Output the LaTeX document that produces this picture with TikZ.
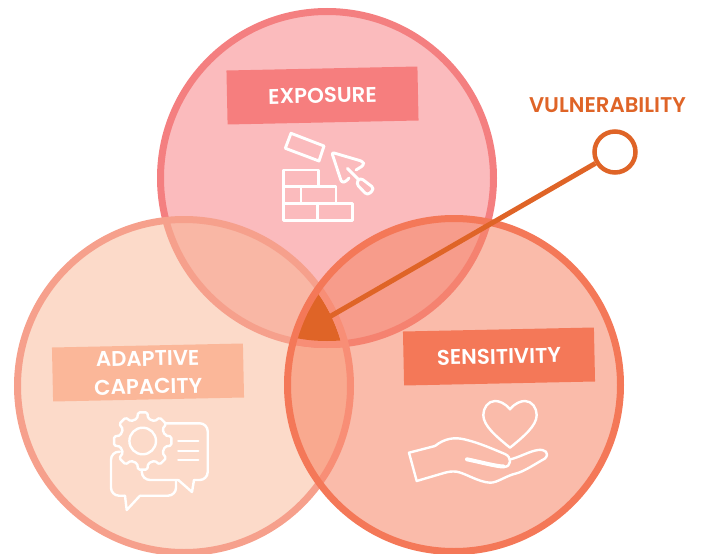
\documentclass[tikz,border=0pt]{standalone}
\usepackage{fontspec}
\setmainfont[BoldFont={Poppins SemiBold}]{Poppins}
\definecolor{expofill}{HTML}{FBBBBD}
\definecolor{expoline}{HTML}{F47F80}
\definecolor{adapfill}{HTML}{FCDAC9}
\definecolor{adapline}{HTML}{F6A08C}
\definecolor{sensfill}{HTML}{FABBAA}
\definecolor{sensline}{HTML}{F47858}
\definecolor{expoadap}{HTML}{F9B7A5}
\definecolor{exposens}{HTML}{F79C8B}
\definecolor{adapsens}{HTML}{F9A98F}
\definecolor{adapring}{HTML}{F88E76}
\definecolor{exporing}{HTML}{F58270}
\definecolor{adapbar}{HTML}{FBB799}
\definecolor{expobar}{HTML}{F67E7E}
\definecolor{vulncol}{HTML}{DF6427}
\tikzset{
  ring/.style={line width=7pt},
  labelbar/.style={rotate=1.2, minimum width=191pt, minimum height=54pt, inner sep=0pt,
    text=white, font=\fontsize{21.3}{28}\selectfont\bfseries, align=center},
  icon/.style={draw=white, line width=2.4pt, line join=round, line cap=round},
  brick/.style={icon, line width=2.9pt},
}
\begin{document}
\begin{tikzpicture}[x=1pt,y=-1pt]
  \useasboundingbox (0,0) rectangle (705,554);
  \def\rad{166.5}
  \def\core{163}
  \coordinate (expo) at (327,178);
  \coordinate (adap) at (184,386);
  \coordinate (sens) at (454,385);
  % exposure
  \fill[expofill] (expo) circle (\rad);
  \draw[ring,expoline] (expo) circle (\rad);
  % adaptive capacity
  \fill[adapfill] (adap) circle (\rad);
  \begin{scope}
    \clip (adap) circle (\rad);
    \fill[expoadap] (expo) circle (\rad);
    \draw[ring,adapline] (expo) circle (\rad);
  \end{scope}
  \draw[ring,adapline] (adap) circle (\rad);
  % sensitivity and the overlaps inside it
  \fill[sensfill] (sens) circle (\rad);
  \begin{scope}
    \clip (sens) circle (\rad);
    \fill[adapsens] (adap) circle (\rad);
    \fill[exposens] (expo) circle (\rad);
    \draw[ring,exporing] (expo) circle (\rad);
    \begin{scope}
      \clip (adap) circle (\rad);
      \draw[ring,adapring] (expo) circle (\rad);
      \clip (expo) circle (\core);
      \fill[vulncol] (adap) circle (\core);
    \end{scope}
    \draw[ring,adapring] (adap) circle (\rad);
  \end{scope}
  \draw[ring,sensline] (sens) circle (\rad);

  \node[labelbar,fill=expobar] (expolabel) at (322.5,95.5) {EXPOSURE};
  \node[labelbar,fill=adapbar] (adaplabel) at (148,372.5) {ADAPTIVE\\CAPACITY};
  \node[labelbar,fill=sensline] (senslabel) at (499,356.5) {SENSITIVITY};

  % bricks and trowel
  \draw[brick] (291,133.3) -- (324,146) -- (319,161) -- (285.3,148.3) -- cycle;
  \draw[brick] (283.3,170) rectangle (318.7,186.7);
  \draw[brick] (283.3,186.7) rectangle (336,203.3);
  \draw[brick] (301,186.7) -- (301,203.3);
  \draw[brick] (283.3,203.3) rectangle (352.7,220.7);
  \draw[brick] (317.7,203.3) -- (317.7,220.7);
  \draw[brick,rounded corners=2.5pt] (349,178) -- (346,181.5) -- (341.7,182.7) -- (331.7,152.3) -- (363,161.5) -- (364,165) -- (356,170);
  \draw[brick] (347.5,168.5) -- (359,180);
  \draw[brick,rounded corners=3.5pt] (360,177.5) -- (374.5,188.5) -- (367.5,195.5) -- (356,183.5) -- cycle;

  % gear and speech bubbles
  \begin{scope}[shift={(142.7,441)}]
    \draw[icon] (0,0) circle (13.3);
    \draw[icon,rounded corners=1.5pt] (-14:23)
      \foreach \a in {0,45,...,315} {
        -- (\a-9:29) -- (\a+9:29) -- (\a+14:23) -- (\a+31:23)
      } -- cycle;
  \end{scope}
  \draw[icon,rounded corners=8pt] (165,423.3) -- (207.7,423.3) -- (207.7,480) -- (194,480);
  \draw[icon] (194,480) -- (192,492) -- (178.3,480);
  \draw[icon,rounded corners=8pt] (178.3,480) -- (142,480) -- (141.7,470);
  \draw[icon] (178.3,441) -- (198.3,441);
  \draw[icon] (178.3,450.7) -- (198.3,450.7);
  \draw[icon] (178.3,460) -- (198.3,460);
  \draw[icon,rounded corners=8pt] (120,451.7) -- (111,451.7) -- (111,495.7) -- (125,495.7);
  \draw[icon] (125,495.7) -- (126.7,510) -- (140,495.7);
  \draw[icon,rounded corners=8pt] (140,495.7) -- (176,495.7) -- (176,481);

  % heart and hand
  \draw[icon] (510,409.3) .. controls (505,403) and (499,401) .. (495,401)
    .. controls (488,401) and (483.3,408) .. (483.3,415)
    .. controls (483.3,426) and (497,437) .. (510,447.7)
    .. controls (523,437) and (536.7,426) .. (536.7,415)
    .. controls (536.7,408) and (532,401) .. (525,401)
    .. controls (521,401) and (515,403) .. (510,409.3) -- cycle;
  \draw[icon] (435,446) .. controls (445,438) and (455,437) .. (465,439.5)
    .. controls (480,443) and (495,450) .. (505,454)
    .. controls (512,457) and (512,467) .. (503.5,467);
  \draw[icon,line width=4pt] (503.5,466.5) .. controls (497,466.5) and (480,462) .. (467,459.3);
  \draw[icon] (510,459.5) .. controls (520,457) and (530,451) .. (538,450)
    .. controls (545,449) and (550,453) .. (545,458.5)
    .. controls (535,464) and (525,471) .. (516.7,473.3)
    .. controls (505,476) and (498,482.7) .. (490,482.7)
    .. controls (478,482) and (465,473) .. (456.7,471.7)
    .. controls (452,471) and (448,472) .. (445,472.7)
    -- (416.7,481) -- (409,452.7) -- (435,446);

  % vulnerability marker
  \node[text=vulncol,font=\fontsize{21.3}{24}\selectfont\bfseries] (vulnlabel) at (607.5,105) {VULNERABILITY};
  \node[circle,draw=vulncol,fill=white,line width=4.5pt,minimum size=41pt,inner sep=0pt] (vuln) at (615,152) {};
  \coordinate (corept) at (324,320);
  \draw[vulncol,line width=5pt] (vuln) -- (corept);
\end{tikzpicture}
\end{document}
